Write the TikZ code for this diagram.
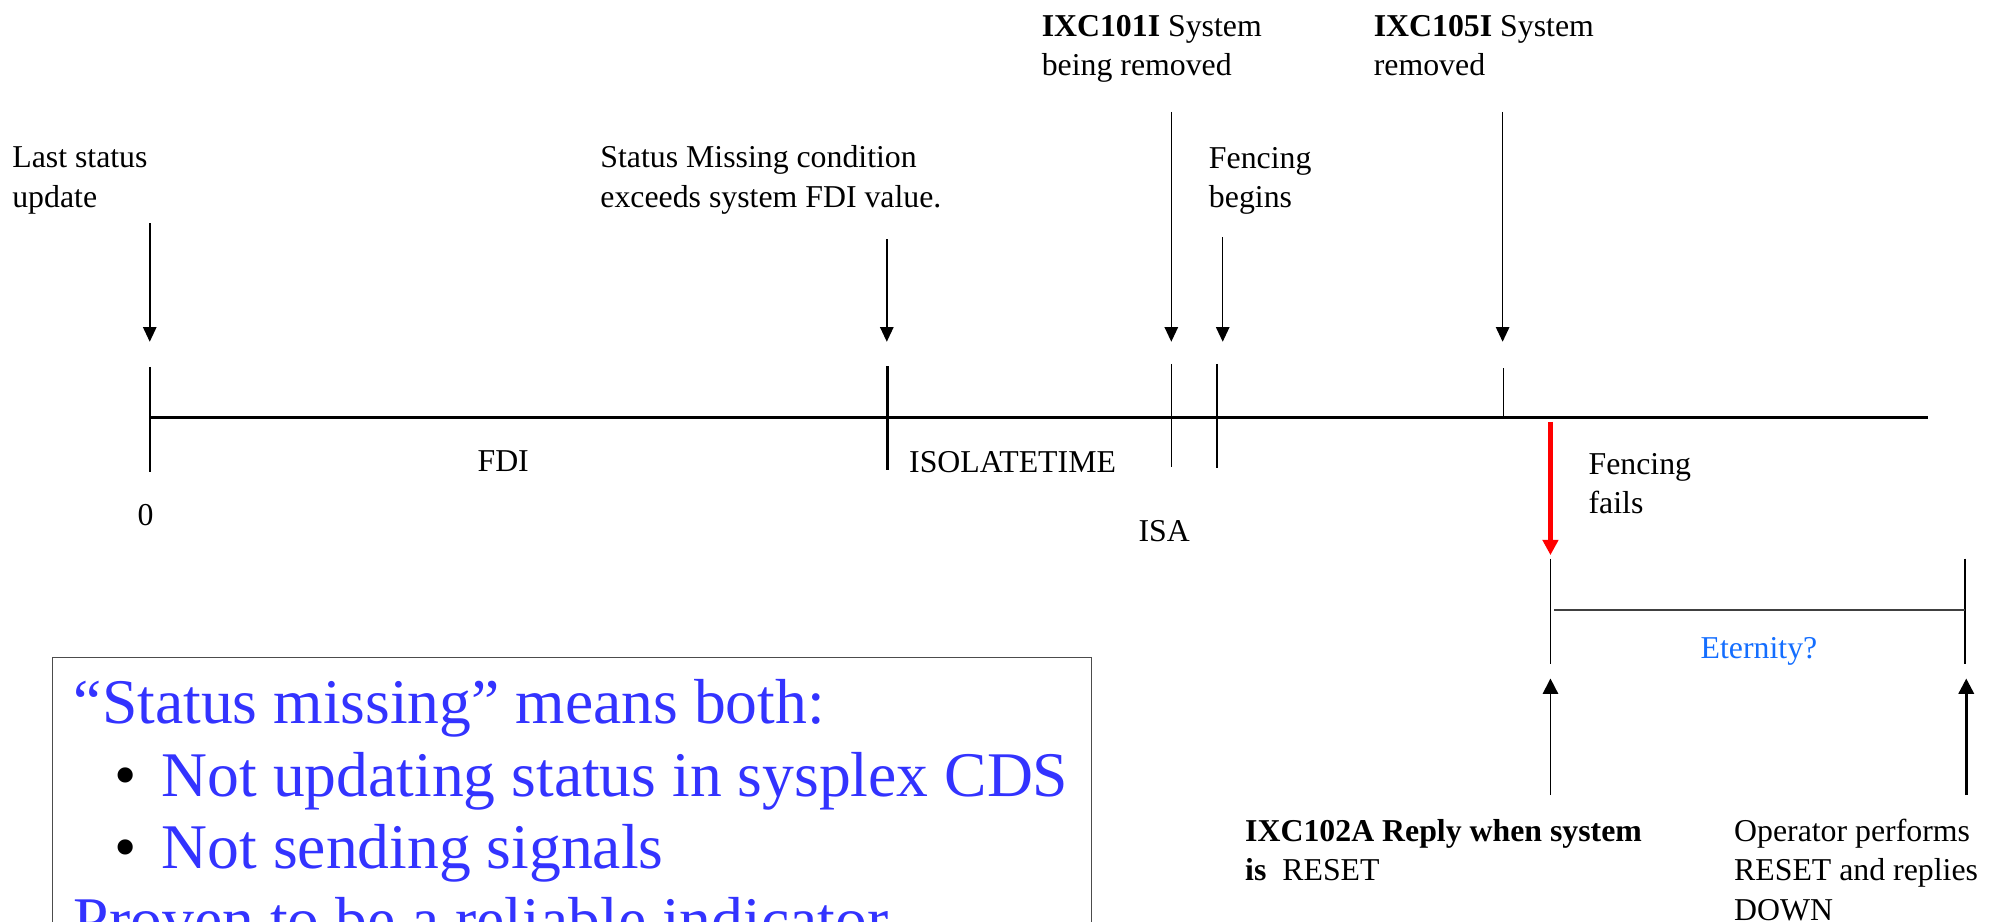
\documentclass[tikz,border=0pt]{standalone}
\usepackage{fontspec}
\setmainfont{Liberation Serif}
\usetikzlibrary{arrows.meta,positioning}
\definecolor{boxblue}{RGB}{51,51,255}
\definecolor{eterblue}{RGB}{20,110,255}
\tikzset{
  >={Triangle[length=11.5pt,width=10.5pt]},
  lbl/.style={anchor=base west, align=left, inner sep=0pt, font=\fontsize{25}{30.7}\selectfont},
  tickline/.style={line width=1.2pt},
  evt/.style={->, line width=1.2pt},
}
\begin{document}
\begin{tikzpicture}[x=1pt, y=-1pt]

  \newcommand\lineY{328.4}
  \newcommand\tipY{268.6}

  \clip (0,0) rectangle (1568,724.6);

  %% timeline
  \coordinate (start) at (117.7,\lineY);
  \coordinate (stop) at (1515.5,\lineY);
  \draw[line width=2.1pt] (start) -- (stop);

  \draw[tickline] (117.7,288.3) -- (117.7,370.8);   % 0
  \draw[line width=2pt] (697.5,288) -- (697.5,369.5); % FDI
  \draw[tickline] (920.6,286) -- (920.6,367);      % ISA
  \draw[tickline] (956.7,286) -- (956.7,368);      % fencing
  \draw[tickline] (1181.6,289.5) -- (1181.6,\lineY); % removed

  %% labels above (base = last line)
  \node[lbl] (last) at (9.5,162.7) {Last status\\update};
  \node[lbl] (miss) at (471.7,162.7) {Status Missing condition\\exceeds system FDI value.};
  \node[lbl] (rem1) at (818.6,59) {\textbf{IXC101I} System\\being removed};
  \node[lbl] (rem5) at (1079.6,59) {\textbf{IXC105I} System\\removed};
  \node[lbl] (fbeg) at (950,163.1) {Fencing\\begins};

  \coordinate (upd) at (117.7,175.6);   \coordinate (upd tip) at (117.7,\tipY);
  \coordinate (exc) at (697,188);       \coordinate (exc tip) at (697,\tipY);
  \coordinate (bei) at (920.6,88);      \coordinate (bei tip) at (920.6,\tipY);
  \coordinate (fen) at (961,186.6);     \coordinate (fen tip) at (961,\tipY);
  \coordinate (rmv) at (1181,88);       \coordinate (rmv tip) at (1181,\tipY);

  \draw[evt] (upd) -- (upd tip);
  \draw[evt] (exc) -- (exc tip);
  \draw[evt] (bei) -- (bei tip);
  \draw[evt] (fen) -- (fen tip);
  \draw[evt] (rmv) -- (rmv tip);

  %% labels below
  \node[lbl, anchor=base] (fdi) at (395.5,370.5) {FDI};
  \node[lbl] (iso) at (714.4,371) {ISOLATETIME};
  \node[lbl, anchor=base] (zero) at (114.4,412.7) {0};
  \node[lbl, anchor=base] (isa) at (915,425.9) {ISA};
  \node[lbl] (ffail) at (1248.4,403.3) {Fencing\\fails};

  %% fencing fails
  \coordinate (fail) at (1218.6,331.5);
  \coordinate (fail tip) at (1218.6,436.3);
  \draw[->, red, line width=3.5pt, >={Triangle[length=12pt,width=12pt]}] (fail) -- (fail tip);

  \draw[tickline] (1218.6,439) -- (1218.6,521.5);
  \draw[tickline] (1544.6,439) -- (1544.6,521.5);
  \draw[line width=1.6pt, black!75] (1221.7,479.6) -- (1544.6,479.6);
  \node[lbl, anchor=base, text=eterblue] (etern) at (1382.5,517.5) {Eternity?};

  \coordinate (reset) at (1218.6,625);  \coordinate (reset tip) at (1218.6,533.3);
  \coordinate (down) at (1545.4,625);   \coordinate (down tip) at (1545.4,533.3);
  \draw[->, line width=1.3pt, >={Triangle[length=12pt,width=12pt]}] (reset) -- (reset tip);
  \draw[->, line width=2pt, >={Triangle[length=12pt,width=12pt]}] (down) -- (down tip);

  \node[lbl] (reply) at (978.5,692.4) {\textbf{IXC102A Reply when system}\\\textbf{is}\ \ RESET};
  \node[lbl] (oper) at (1362.8,723.1) {Operator performs\\RESET and replies\\DOWN};

  %% status missing box
  \draw[line width=1pt, black!70] (41.4,516.8) rectangle (857.6,800);
  \node[anchor=base west, align=left, inner sep=0pt, text=boxblue,
        font=\fontsize{50}{57}\selectfont] (missing) at (57.9,739.7)
    {``Status missing'' means both:\\
     \hspace*{32pt}{\color{black}\textbullet}\hspace{19.5pt}Not updating status in sysplex CDS\\
     \hspace*{32pt}{\color{black}\textbullet}\hspace{19.5pt}Not sending signals\\
     Proven to be a reliable indicator};

\end{tikzpicture}
\end{document}
